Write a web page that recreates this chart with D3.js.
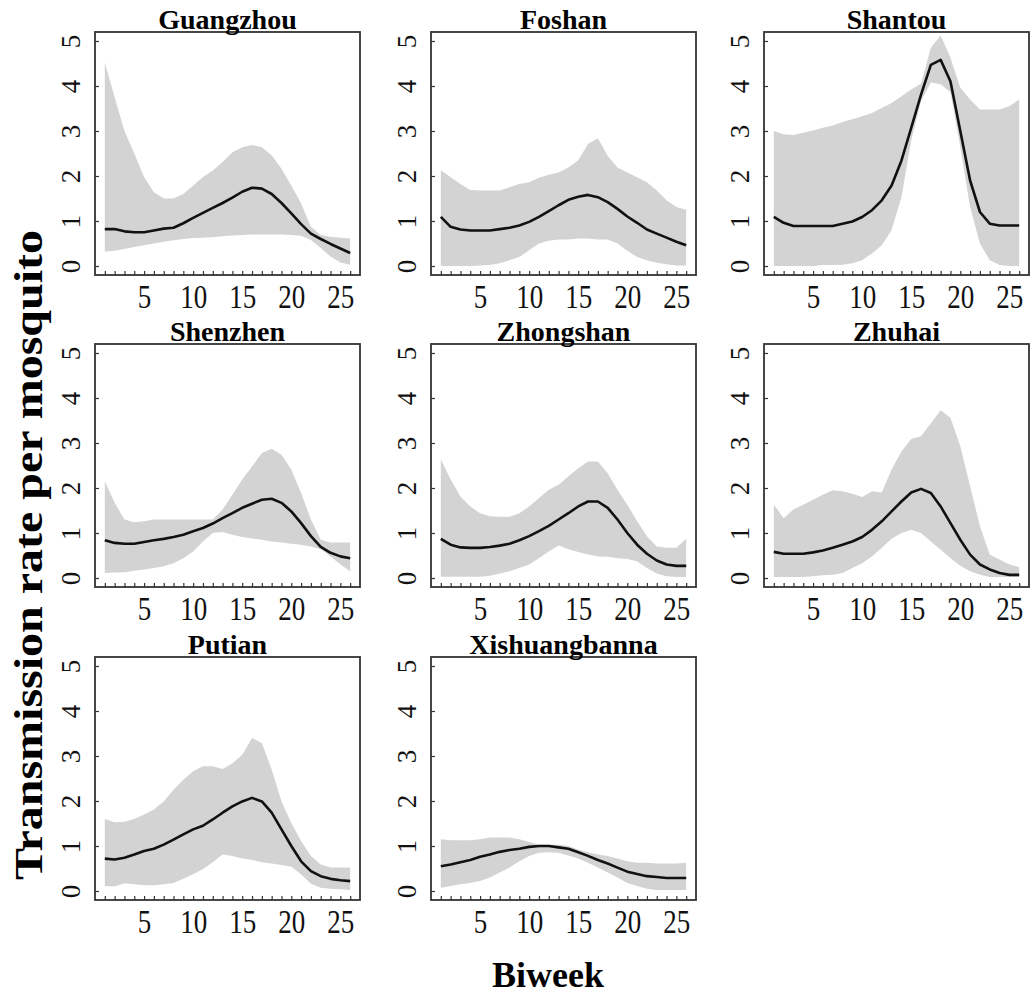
<!DOCTYPE html>
<meta charset="utf-8">
<script src="https://d3js.org/d3.v7.min.js"></script>
<style>
  body { margin: 0; background: #fff; }
  svg text { font-family: "Liberation Serif", "Times New Roman", serif !important; }
</style>
<div id="chart"></div>
<script>
// biweek index and tick labels
var biweeks = d3.range(1, 27)
var xLabels = [5, 10, 15, 20, 25]
var yTicks = [0, 1, 2, 3, 4, 5]

var cities = ["Guangzhou", "Foshan", "Shantou", "Shenzhen", "Zhongshan", "Zhuhai", "Putian", "Xishuangbanna"]

// posterior mean per biweek
var guangzhouMean = [0.82,0.82,0.77,0.75,0.75,0.79,0.83,0.85,0.95,1.07,1.18,1.29,1.40,1.52,1.65,1.74,1.72,1.60,1.40,1.17,0.93,0.72,0.60,0.49,0.39,0.29]
var foshanMean = [1.09,0.87,0.81,0.79,0.79,0.79,0.82,0.85,0.90,0.98,1.09,1.22,1.35,1.47,1.54,1.58,1.53,1.42,1.27,1.10,0.96,0.81,0.72,0.63,0.54,0.46]
var shantouMean = [1.09,0.96,0.89,0.89,0.89,0.89,0.89,0.94,0.99,1.09,1.24,1.46,1.79,2.34,3.07,3.81,4.47,4.58,4.10,3.00,1.90,1.20,0.94,0.90,0.90,0.90]
var shenzhenMean = [0.84,0.78,0.76,0.76,0.80,0.84,0.87,0.91,0.96,1.04,1.11,1.21,1.33,1.44,1.56,1.65,1.74,1.76,1.67,1.48,1.22,0.93,0.69,0.56,0.48,0.44]
var zhongshanMean = [0.87,0.74,0.68,0.67,0.67,0.69,0.72,0.76,0.84,0.93,1.04,1.16,1.30,1.44,1.59,1.70,1.70,1.56,1.30,1.00,0.74,0.54,0.39,0.30,0.27,0.27]
var zhuhaiMean = [0.58,0.54,0.54,0.54,0.57,0.61,0.67,0.74,0.81,0.91,1.07,1.26,1.48,1.70,1.90,1.98,1.89,1.59,1.22,0.85,0.52,0.30,0.19,0.11,0.07,0.07]
var putianMean = [0.72,0.70,0.74,0.81,0.89,0.94,1.03,1.14,1.26,1.37,1.45,1.59,1.74,1.88,1.99,2.07,1.99,1.74,1.37,1.00,0.66,0.44,0.33,0.27,0.24,0.22]
var xishuangbannaMean = [0.55,0.59,0.64,0.69,0.76,0.81,0.87,0.91,0.94,0.98,1.00,1.00,0.97,0.94,0.86,0.78,0.69,0.61,0.52,0.43,0.38,0.33,0.31,0.29,0.29,0.29]

// lower bound of the credible band
var guangzhouLow = [0.32,0.34,0.38,0.42,0.46,0.50,0.54,0.57,0.60,0.62,0.63,0.64,0.66,0.68,0.69,0.70,0.70,0.70,0.70,0.69,0.67,0.58,0.40,0.21,0.08,0.03]
var foshanLow = [0.00,0.00,0.00,0.00,0.01,0.02,0.06,0.13,0.20,0.35,0.50,0.56,0.59,0.59,0.61,0.61,0.59,0.59,0.50,0.34,0.20,0.13,0.07,0.04,0.01,0.01]
var shantouLow = [0.00,0.00,0.00,0.00,0.00,0.02,0.02,0.03,0.06,0.13,0.28,0.46,0.80,1.53,2.79,3.67,4.08,4.04,3.86,2.64,1.31,0.50,0.13,0.02,0.00,0.00]
var shenzhenLow = [0.11,0.12,0.13,0.16,0.19,0.22,0.26,0.33,0.44,0.59,0.81,1.00,1.02,0.96,0.91,0.88,0.85,0.81,0.79,0.76,0.74,0.70,0.64,0.48,0.30,0.15]
var zhongshanLow = [0.03,0.03,0.03,0.03,0.03,0.05,0.10,0.15,0.22,0.30,0.44,0.59,0.72,0.64,0.58,0.52,0.48,0.47,0.44,0.42,0.37,0.22,0.10,0.04,0.02,0.02]
var zhuhaiLow = [0.02,0.02,0.02,0.02,0.04,0.06,0.07,0.11,0.22,0.33,0.48,0.67,0.87,1.00,1.07,1.00,0.81,0.63,0.44,0.27,0.15,0.07,0.02,0.02,0.02,0.02]
var putianLow = [0.11,0.10,0.17,0.15,0.13,0.13,0.15,0.18,0.27,0.37,0.49,0.64,0.81,0.78,0.72,0.69,0.64,0.61,0.58,0.54,0.37,0.16,0.07,0.05,0.04,0.02]
var xishuangbannaLow = [0.07,0.11,0.15,0.18,0.22,0.30,0.41,0.52,0.66,0.78,0.85,0.86,0.85,0.79,0.72,0.63,0.52,0.41,0.30,0.18,0.11,0.05,0.02,0.02,0.02,0.02]

// upper bound of the credible band
var guangzhouHigh = [4.52,3.75,3.00,2.50,1.98,1.64,1.50,1.50,1.60,1.79,1.98,2.12,2.31,2.53,2.64,2.69,2.64,2.46,2.16,1.79,1.39,0.87,0.69,0.65,0.63,0.61]
var foshanHigh = [2.13,1.97,1.82,1.69,1.68,1.68,1.68,1.75,1.82,1.86,1.96,2.03,2.08,2.19,2.35,2.71,2.84,2.45,2.19,2.08,1.97,1.86,1.68,1.46,1.31,1.25]
var shantouHigh = [3.00,2.93,2.91,2.96,3.01,3.07,3.12,3.20,3.26,3.33,3.40,3.51,3.62,3.77,3.92,4.05,4.85,5.12,4.63,3.96,3.70,3.48,3.48,3.48,3.55,3.70]
var shenzhenHigh = [2.15,1.67,1.30,1.24,1.26,1.30,1.30,1.30,1.30,1.30,1.30,1.30,1.52,1.85,2.19,2.48,2.78,2.87,2.74,2.41,1.89,1.30,0.85,0.79,0.79,0.79]
var zhongshanHigh = [2.64,2.19,1.81,1.59,1.44,1.37,1.36,1.36,1.44,1.59,1.78,1.96,2.07,2.26,2.44,2.59,2.59,2.33,1.96,1.63,1.26,0.93,0.70,0.67,0.67,0.87]
var zhuhaiHigh = [1.63,1.33,1.52,1.63,1.74,1.85,1.95,1.93,1.87,1.80,1.93,1.90,2.41,2.81,3.09,3.15,3.44,3.73,3.56,2.93,2.04,1.15,0.52,0.41,0.30,0.24]
var putianHigh = [1.60,1.53,1.54,1.60,1.70,1.81,1.99,2.25,2.47,2.66,2.77,2.77,2.71,2.84,3.03,3.40,3.29,2.70,1.99,1.51,1.11,0.78,0.59,0.52,0.52,0.52]
var xishuangbannaHigh = [1.15,1.13,1.13,1.13,1.15,1.19,1.19,1.19,1.15,1.09,1.03,1.03,1.03,1.00,0.92,0.86,0.81,0.78,0.72,0.66,0.63,0.63,0.61,0.61,0.61,0.63]

var means = [guangzhouMean, foshanMean, shantouMean, shenzhenMean, zhongshanMean, zhuhaiMean, putianMean, xishuangbannaMean]
var lows = [guangzhouLow, foshanLow, shantouLow, shenzhenLow, zhongshanLow, zhuhaiLow, putianLow, xishuangbannaLow]
var highs = [guangzhouHigh, foshanHigh, shantouHigh, shenzhenHigh, zhongshanHigh, zhuhaiHigh, putianHigh, xishuangbannaHigh]

var serif = "'Liberation Serif', 'Times New Roman', serif"
var width = 1031
var height = 997
var svg = d3.select("#chart").append("svg").attr("width", width).attr("height", height)
  .attr("font-family", serif)

// panel boxes
var colLeft = [95, 431, 764]
var rowTop = [32, 344, 657]
var pw = 265
var ph = 243

cities.forEach(function(city, i) {
  var px = colLeft[i % 3]
  var py = rowTop[Math.floor(i / 3)]
  var rows = biweeks.map(function(b, j) {
    return { week: b, mean: means[i][j], low: lows[i][j], high: highs[i][j] }
  })

  var x = d3.scaleLinear().domain([0, 27]).range([px, px + pw])
  var y = d3.scaleLinear().domain([-0.2, 5.2]).range([py + ph, py])

  var g = svg.append("g")

  g.append("path")
    .datum(rows)
    .attr("fill", "#d3d3d3")
    .attr("d", d3.area()
      .x(function(d) { return x(d.week) })
      .y0(function(d) { return y(d.low) })
      .y1(function(d) { return y(d.high) }))

  g.append("path")
    .datum(rows)
    .attr("fill", "none")
    .attr("stroke", "#111")
    .attr("stroke-width", 2.6)
    .attr("stroke-linejoin", "round")
    .attr("d", d3.line()
      .x(function(d) { return x(d.week) })
      .y(function(d) { return y(d.mean) }))

  // x axis, ticks inward
  var xa = g.append("g")
    .attr("transform", "translate(0," + (py + ph) + ")")
    .call(d3.axisBottom(x).tickValues(biweeks).tickSize(-4)
      .tickFormat(function(d) { return xLabels.indexOf(d) >= 0 ? d : "" }))
    .attr("font-family", serif)
  xa.select(".domain").remove()
  xa.selectAll("line").attr("stroke", "#333").attr("stroke-width", 1.2)
  xa.selectAll("text")
    .attr("y", 33).attr("dy", null)
    .attr("fill", "#111")
    .style("font-family", serif)
    .style("font-size", "34px")
    .each(function(d) {
      var t = d3.select(this).text()
      if (t) d3.select(this).attr("textLength", 13.5 * t.length).attr("lengthAdjust", "spacingAndGlyphs")
    })

  // y axis, ticks inward, labels rotated
  var ya = g.append("g")
    .attr("transform", "translate(" + px + ",0)")
    .call(d3.axisLeft(y).tickValues(yTicks).tickSize(-4).tickFormat(d3.format("d")))
    .attr("font-family", serif)
  ya.select(".domain").remove()
  ya.selectAll("line").attr("stroke", "#333").attr("stroke-width", 1.2)
  ya.selectAll("text")
    .attr("x", null).attr("dy", null)
    .attr("text-anchor", "middle")
    .attr("transform", "translate(-15,0) rotate(-90)")
    .attr("fill", "#111")
    .style("font-family", serif)
    .style("font-size", "27px")

  g.append("rect")
    .attr("x", px).attr("y", py)
    .attr("width", pw).attr("height", ph)
    .attr("fill", "none")
    .attr("stroke", "#333")
    .attr("stroke-width", 1.8)

  g.append("text")
    .attr("x", px + pw / 2)
    .attr("y", py - 3)
    .attr("text-anchor", "middle")
    .style("font-family", serif)
    .style("font-size", "28px")
    .style("font-weight", "bold")
    .text(city)
})

svg.append("text")
  .attr("transform", "translate(42,555) rotate(-90)")
  .attr("text-anchor", "middle")
  .attr("textLength", 650)
  .attr("lengthAdjust", "spacingAndGlyphs")
  .style("font-family", serif)
  .style("font-size", "40px")
  .style("font-weight", "bold")
  .text("Transmission rate per mosquito")

svg.append("text")
  .attr("x", 548)
  .attr("y", 987)
  .attr("text-anchor", "middle")
  .style("font-family", serif)
  .style("font-size", "36px")
  .style("font-weight", "bold")
  .text("Biweek")
</script>
